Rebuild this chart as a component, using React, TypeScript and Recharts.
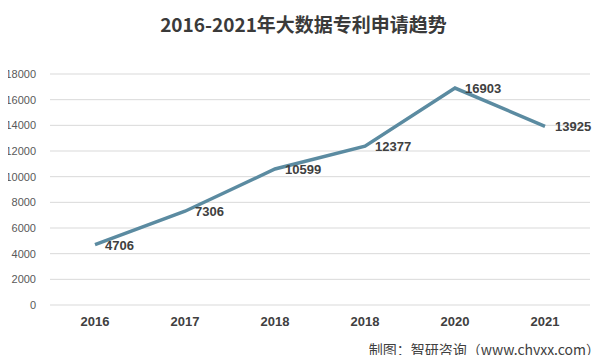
import React from 'react';
import { LineChart, Line, XAxis, YAxis, CartesianGrid, LabelList } from 'recharts';

const years = ['2016', '2017', '2018', '2018', '2020', '2021'];
const patents = [4706, 7306, 10599, 12377, 16903, 13925];
const yTicks = [0, 2000, 4000, 6000, 8000, 10000, 12000, 14000, 16000, 18000];

const chartData = years.map((year, i) => ({ year, value: patents[i] }));

const W = 605;
const H = 363;
const FONT = "'Liberation Sans', Arial, sans-serif";

function ValueLabel(props: any) {
  const { x, y, value } = props;
  return (
    <text x={x + 10} y={y + 5} fontSize={13} fontWeight={700} fill="#404040" fontFamily={FONT}>
      {value}
    </text>
  );
}

export default function App() {
  return (
    <div
      style={{
        position: 'relative',
        width: W,
        height: H,
        margin: -8,
        background: '#fff',
        border: '1px solid #bdbdbd',
        boxSizing: 'border-box',
        fontFamily: FONT,
      }}
    >
      {/* title */}
      <div
        style={{
          position: 'absolute',
          top: 10,
          left: 0,
          width: W,
          textAlign: 'center',
          fontSize: 19,
          fontWeight: 700,
          color: '#3a3a3a',
          fontFamily: "'Noto Sans CJK SC', sans-serif",
          lineHeight: '26px',
        }}
      >
        2016-2021年大数据专利申请趋势
      </div>

      <div style={{ position: 'absolute', top: -1, left: -1 }}>
        <LineChart
          width={W}
          height={H}
          data={chartData}
          margin={{ top: 74, right: 15, left: 0, bottom: 28 }}
        >
          <CartesianGrid vertical={false} stroke="#d9d9d9" strokeWidth={1} />
          <XAxis
            dataKey="year"
            axisLine={false}
            tickLine={false}
            tickSize={0}
            tickMargin={12}
            height={30}
            padding={{ left: 45, right: 45 }}
            tick={{ fontSize: 13, fontWeight: 700, fill: '#404040', fontFamily: FONT }}
            interval={0}
          />
          <YAxis
            width={50}
            domain={[0, 18000]}
            ticks={yTicks}
            interval={0}
            axisLine={false}
            tickLine={false}
            tickSize={0}
            tickMargin={14}
            tick={{ fontSize: 11, fill: '#595959', fontFamily: FONT }}
          />
          <Line
            type="linear"
            dataKey="value"
            stroke="#5b8ba1"
            strokeWidth={3.5}
            dot={false}
            activeDot={false}
            isAnimationActive={false}
          >
            <LabelList dataKey="value" content={<ValueLabel />} />
          </Line>
        </LineChart>
      </div>

      {/* source */}
      <div
        style={{
          position: 'absolute',
          right: 4,
          bottom: 4,
          fontSize: 14,
          color: '#404040',
          fontFamily: "'Noto Sans CJK SC', sans-serif",
          lineHeight: '18px',
        }}
      >
        制图：智研咨询（www.chyxx.com）
      </div>
    </div>
  );
}
